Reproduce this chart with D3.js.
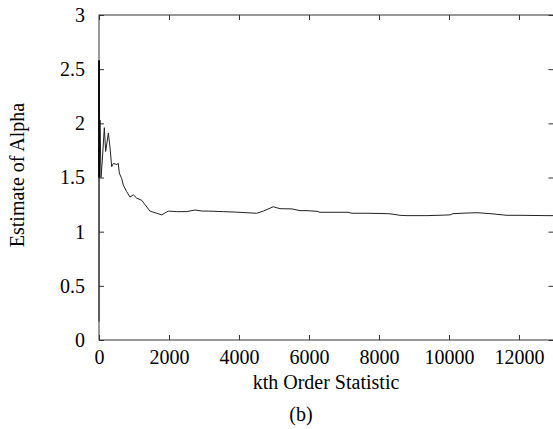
<!DOCTYPE html>
<html><head><meta charset="utf-8">
<script src="https://cdn.jsdelivr.net/npm/d3@7"></script>
<style>
body{margin:0;background:#fff;}
text{font-family:"Liberation Serif","Times New Roman",serif;fill:#000;}
</style></head>
<body><svg id="c" width="553" height="429"></svg>
<script>
const kValues = [0,3,8,29,57,95,152,190,267,314,362,410,505,552,581,648,695,790,886,981,1076,1219,1314,1457,1648,1790,1981,2219,2505,2743,2950,3124,3552,3933,4219,4505,4695,4981,5171,5514,5743,5943,6229,6314,7114,7229,7657,8029,8314,8600,8800,9371,9686,10029,10114,10514,10800,11229,11371,11657,12029,12800,12986];
const alphaValues = [0.17,2.58,1.5,2.03,1.5,1.66,1.96,1.74,1.91,1.78,1.60,1.63,1.62,1.63,1.54,1.49,1.43,1.37,1.32,1.34,1.31,1.29,1.25,1.19,1.17,1.155,1.19,1.185,1.185,1.20,1.19,1.19,1.185,1.18,1.175,1.17,1.19,1.23,1.212,1.21,1.194,1.194,1.188,1.179,1.179,1.170,1.170,1.168,1.165,1.151,1.148,1.148,1.151,1.155,1.166,1.172,1.175,1.165,1.16,1.151,1.151,1.148,1.148];
const xTicks = [0,2000,4000,6000,8000,10000,12000];
const yTicks = [0,0.5,1,1.5,2,2.5,3];
const yTickLabels = ["0","0.5","1","1.5","2","2.5","3"];
const xLabel = "kth Order Statistic";
const yLabel = "Estimate of Alpha";
const caption = "(b)";

const svg = d3.select("#c");
const m = {l:99, r:553.5, t:15, b:340};
const x = d3.scaleLinear().domain([0,12986]).range([m.l, m.r]);
const y = d3.scaleLinear().domain([0,3]).range([m.b, m.t]);

const tl = 5;
const axisColor = "#333";
svg.append("rect").attr("x",m.l).attr("y",m.t).attr("width",m.r-m.l).attr("height",m.b-m.t)
  .attr("fill","none").attr("stroke",axisColor).attr("stroke-width",1);

const xb = svg.append("g").attr("transform",`translate(0,${m.b})`)
  .call(d3.axisBottom(x).tickValues(xTicks).tickSizeInner(-tl).tickSizeOuter(0).tickPadding(24).tickFormat(d3.format("d")));
xb.select(".domain").remove();
xb.selectAll("line").attr("stroke",axisColor);
xb.selectAll("text").attr("font-size","20px").attr("font-family","Liberation Serif").attr("dy","0");

const xt = svg.append("g").attr("transform",`translate(0,${m.t})`)
  .call(d3.axisTop(x).tickValues(xTicks).tickSizeInner(-tl).tickSizeOuter(0).tickFormat(""));
xt.select(".domain").remove();
xt.selectAll("line").attr("stroke",axisColor);

const yl = svg.append("g").attr("transform",`translate(${m.l},0)`)
  .call(d3.axisLeft(y).tickValues(yTicks).tickSizeInner(-tl).tickSizeOuter(0).tickPadding(14).tickFormat((d,i)=>yTickLabels[i]));
yl.select(".domain").remove();
yl.selectAll("line").attr("stroke",axisColor);
yl.selectAll("text").attr("font-size","20px").attr("font-family","Liberation Serif");

const yr = svg.append("g").attr("transform",`translate(${m.r},0)`)
  .call(d3.axisRight(y).tickValues(yTicks).tickSizeInner(-tl).tickSizeOuter(0).tickFormat(""));
yr.select(".domain").remove();
yr.selectAll("line").attr("stroke",axisColor);

const line = d3.line().x((d,i)=>x(kValues[i])).y(d=>y(d));
svg.append("path").datum(alphaValues).attr("d",line)
  .attr("fill","none").attr("stroke","#222").attr("stroke-width",1);
svg.append("line").attr("x1",m.l).attr("x2",m.l).attr("y1",y(2.58)).attr("y2",y(1.5))
  .attr("stroke","#000").attr("stroke-width",1.6);

svg.append("text").attr("x",326).attr("y",389).attr("text-anchor","middle")
  .attr("font-size","20px").text(xLabel);
svg.append("text").attr("transform",`translate(24,175) rotate(-90)`).attr("text-anchor","middle")
  .attr("font-size","20px").text(yLabel);
svg.append("text").attr("x",301).attr("y",421).attr("text-anchor","middle")
  .attr("font-size","20px").text(caption);
</script></body></html>
